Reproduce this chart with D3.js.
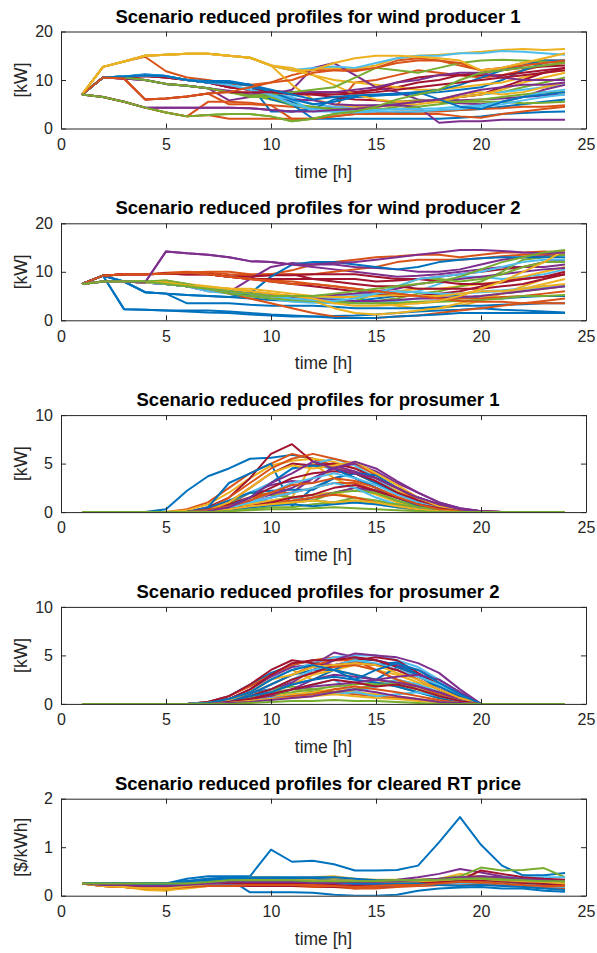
<!DOCTYPE html>
<html>
<head>
<meta charset="utf-8">
<script src="https://cdn.jsdelivr.net/npm/d3@7"></script>
<style>
  body { margin: 0; background: #fff; }
  text { font-family: "Liberation Sans", Arial, sans-serif; }
</style>
</head>
<body>
<div id="chart"></div>
<script>
// hours 1..24
var hours = d3.range(1, 25);

var wind1 = [
  [7,10.5,10.7,11,10.8,10,9.5,9.3,8.8,7,5.5,4,3.5,3.2,3,3.2,3.5,3.6,3.8,4,4.5,5,5.5,6],
  [7,10.5,10.3,6,6.2,6.6,7.2,5,5,4.8,4.5,4.2,4,9.5,10,11,12,11.5,11,10.5,11,12,13,13.5],
  [7,12.7,13.8,15,15.2,15.4,15.4,15,14.6,13,12,12.3,12.5,12.3,13,14.5,15,15.2,15.5,15.8,16.2,16.4,16.2,16.4],
  [7,6.5,5.5,4.3,4.3,4.3,4.3,4.3,4.2,3.8,3.5,4,4.5,4.5,4.5,5,5.5,6,5.8,6,6.2,6.5,6.8,7],
  [7,10.5,10.5,10,9.2,8.8,8.3,7.5,6.8,6,4.8,4,3.8,3.5,3.8,4.5,5.5,6,6.5,7,7.5,8.5,9.5,10.5],
  [7,10.5,10.7,11,10.8,10,9.5,9,8,7.2,6.5,5,4.5,4.5,4.8,5,5.5,6,6.5,7,7.5,8,8.5,9],
  [7,10.5,10.5,10.8,10.5,10,9.5,8.5,8,7.5,7.5,7.5,7.5,7.5,8,8.5,9.5,10,11,11.5,12,12.5,12.8,13],
  [7,10.5,10.7,11.2,10.8,10,9.5,9.5,9,3.5,3.5,4,6,6.5,6.8,7,7.2,7.5,8,8.5,10,12,13.5,14],
  [7,12.7,13.8,14.8,11.8,10.5,10,9.3,9,9.5,11,12,12,11.8,12.5,14,14.5,14,13,12,12.5,13.5,14,14],
  [7,12.7,13.8,15,15.2,15.4,15.4,15,14.6,13,12,11,10,9.5,9,8.5,8,8,8.5,9,9.5,10.5,11.5,12],
  [7,10.5,10.3,10,9.2,8.8,8.3,5.8,6.5,7,8,12.5,13.5,11,8.5,7.5,6,5.5,5.2,5,5.5,6.5,8,9],
  [7,6.5,5.5,4.3,3.3,2.5,2.8,3,3,2.5,1.5,2,3,3.5,4.5,5.5,5.8,5.5,5.5,5.5,5.5,5.2,5.3,5.5],
  [7,12.7,13.8,15,15.2,15.4,15.4,15,14.6,13,12,12.5,12.8,12.5,13.5,14.5,15,15,15.5,15.5,16,15.8,15.5,15.2],
  [7,10.5,10.5,10.8,10.5,10,9.5,8.5,8,7.8,7.5,7,6.5,6,5.8,5.5,5.5,6,6.5,7,8.5,10,11.5,12.5],
  [7,10.5,10.7,11,10.8,10,9.8,9.8,9,6,5,2,2,2,2,2,2,2,2.2,2.5,3,3.2,3.4,3.5],
  [7,6.5,5.5,4.3,3.3,2.5,5.5,5.5,5.3,4.8,2,2,2.5,3,3,3,3,3,2.5,2.2,3,3.5,4,4.5],
  [7,12.7,13.8,15,15.2,15.4,15.4,15,14.6,13,9,6,5,4.5,4.5,4.8,5,5.5,6.5,7,8,9.5,10.5,11.5],
  [7,10.5,10.3,10,9.2,8.8,8.3,7.8,7,6.5,6,5.8,5,4.8,4.8,4.8,4.5,1.2,1.5,1.5,1.8,1.8,1.8,1.8],
  [7,10.5,10.5,10,9.2,8.8,8.3,7.5,6.5,6.5,5,4.5,4,4,4,4,4.5,5,5.5,6,6.5,7,7.5,7.5],
  [7,10.5,10.7,11,10.8,10,9.5,9,8,6.8,6,3.5,3.5,3.5,3.8,4,4,4.2,4.5,4.8,5.5,6.5,7.5,8],
  [7,10.5,10.5,10.8,10.5,10,9.5,8.5,8,7.5,7.2,7.2,7.5,7.5,8,9.5,10.5,11,11,11,11,11.5,12,12.5],
  [7,10.5,10.7,11,10.8,10,9.5,9.5,9,7.5,6,5,5.5,6.5,6.8,7,7.5,8,9,10.5,12,13,14,14],
  [7,6.5,5.5,4.3,3.3,2.5,2.8,2,2,2,2,2,2.5,3,3.2,3.5,3.5,3.5,3.8,4,4.2,4.5,4.5,4.8],
  [7,12.7,13.8,15,15.2,15.4,15.4,15,14.6,13,12.5,11,9,7,6,5.5,5.5,6,7,7.5,7,7.5,8.5,9.5],
  [7,10.5,10.3,10,9.2,8.8,8.3,7.5,7,7.5,7.5,7.5,7.5,8,8.5,9.5,10,11,11.5,11.5,10.5,10,10,10],
  [7,10.5,10.5,10,9.2,8.8,8.3,7.5,6.8,7,7.5,8,8.5,10.5,12.5,12,11.5,12.5,13.5,14,14.2,14,13.8,13.5],
  [7,10.5,10.7,11,10.8,10,9.5,9,8,7,5,4,3.5,3.3,3.5,3.5,3.5,3.8,4,4.5,5,5.8,6.5,7],
  [7,10.5,10.3,6,6.2,6.6,7.2,7.5,7.5,7.5,7,7,7,7.2,7.5,8,8.5,9,9.5,10,10.5,11,11.5,12],
  [7,10.5,10.7,11,10.8,10,9.5,9.5,9,8,7,6,6.5,6.8,7,7.2,7.5,6,4.5,4,5.5,6.5,7,7.5],
  [7,10.5,10.3,6,6.2,6.6,7.2,7.5,8.5,9.5,10,11.5,12,12,12.5,13.5,14,14,13.5,12,12.5,13,13.5,14],
  [7,12.7,13.8,15,15.2,15.4,15.4,15,14.6,13,12,12,13.5,14.5,15,15,14.8,14.5,14,12,12.5,13.5,14.5,15.5],
  [7,6.5,5.5,4.3,4.3,4.3,4.3,4.3,4.2,3.8,3.5,3.5,3.8,4,4.5,5,5.5,6,7,8,8.5,9,9,9.5],
  [7,6.5,5.5,4.3,3.3,2.5,2.8,3,3,2.5,1.5,2,3,3.5,4.5,6,7,8,10,11.5,12,12.5,13,13.5]
];

var wind2 = [
  [7.5,9.2,2.3,2.2,2,1.8,1.6,1.5,1.2,1,0.8,0.8,0.9,1,1.2,1.5,1.8,2,2.2,2.5,2.2,2,1.8,1.6],
  [7.5,9.2,9.5,9.5,9.6,9.8,10,10,9.5,9.5,10.3,11.5,12,12.5,13,13.2,13.5,13.5,13,13.5,14,14,14.2,14],
  [7.5,8,8,7.8,7.8,7.5,7,6.5,6,5.5,5,4.5,4,3.8,3.5,3,2.5,2.5,3,4,5.5,7,8.5,9.5],
  [7.5,8,8,7.8,14.2,13.8,13.5,13,12.2,12,11.5,11,10.5,10,9.5,9,9.2,9.5,10,10.5,11,11,11,11.5],
  [7.5,8,8,8,8.2,7.5,6.5,5.8,5.2,4.5,4,3.8,3.6,3.5,3.5,3.6,3.8,4,4.5,5,5.5,6,6.5,7],
  [7.5,8,8,7.8,7.5,7,6.5,6,5.5,5,4.5,4.2,4.8,5.5,5.5,5.5,6,7.5,9,9,8.5,9,9.5,10.5],
  [7.5,9.2,9.5,9.5,9.6,9.5,9.5,9,9.3,9.3,9.5,8.5,8.5,8.5,8,8.2,8.5,9,9.5,10,10.5,11,12,12.5],
  [7.5,9.2,8,5.8,5.5,5.2,5,4.8,4.5,4.2,4,4,3.8,4,4.5,5,5,5.2,5,4.5,4.5,4.8,5,5],
  [7.5,9.2,9.5,9.5,9.8,10,9.8,9.5,9.3,9.5,9.5,9.5,10,10.5,11,12,12.5,12.5,12.5,12.8,13.2,13.5,13.5,13.5],
  [7.5,8,8,7.8,7.8,7.2,6.8,6.5,6,5.5,5,4.5,4.5,5,5.5,6,6.5,6.5,7,7.5,8,9,10,11],
  [7.5,8,8,7.8,7.5,7,6,5.8,8.5,11,11.8,11.5,11.5,11,10.8,10.5,10,10,10.5,11.5,12.5,13,13.2,13.5],
  [7.5,8,8,8,7.5,7,6.5,5.5,5,4.5,4.2,4,3.8,3.8,4,4.5,5.5,6,7,8,10,12.5,13,13.5],
  [7.5,8,8,7.8,7.5,7,6,5.5,5,4.5,3.8,3.6,3.5,3.6,3.8,4,4.5,5,5.5,6,6.2,6.5,6.8,7],
  [7.5,9.2,9.5,9.5,9.6,9.5,9.5,9,8.5,8,7.5,7,6.5,6,5.5,5,5,5.5,6,7,8,8.5,9,10],
  [7.5,9.2,8,5.8,5.5,3.5,3.5,3.5,3.2,3,3,3,2.8,2.5,2.5,2.5,2.5,2.8,3,3,3.2,3.3,3.5,3.5],
  [7.5,8,8,7.8,7.5,7,6.5,5.5,4.5,3.5,2.5,1.5,0.8,0.5,0.5,0.8,1,1.5,2,2.5,3,3.5,4,4.5],
  [7.5,8,8,7.8,7.8,7.2,6.8,6.2,5.5,5,4.5,4,2.5,1.5,1.2,1.5,2,2.5,3.5,4.5,5.5,6.5,7.5,8.5],
  [7.5,8,8,7.8,7.5,7,6.5,6,5.5,5.2,5,5,5.2,5.5,6,6.5,7.5,8,8.5,9,9.5,10,10.5,10.8],
  [7.5,8,8,8,8.2,7.5,6.5,6,5.5,5,5,4.5,4.5,4,5.5,7,8.5,8.5,8,8.5,9.5,11,12,12],
  [7.5,8,8,7.8,7.5,7,6.5,6,5.5,5,4.5,4.5,4.5,5,5.5,6,5.8,5.5,5.5,5.8,6,6.5,7,7],
  [7.5,9.2,9.5,9.5,9.6,9.5,9.5,9,9,9.3,9.3,9.5,9.5,9.5,9,8.5,8.5,8,7.5,7.5,7.8,8.5,9,9.5],
  [7.5,9.2,8,5.8,5.5,5.2,5,4.8,5.5,9,11.5,12,12,11.5,11,10.5,11,12,12.5,12.8,13,13,13,13],
  [7.5,9.2,9.5,9.5,9.6,9.8,9.5,9,8.5,8,7.5,7.5,7,6.5,6,5.5,5,4.8,4.5,4.5,4.8,5,5.5,6],
  [7.5,8,8,7.8,7.8,7.2,6.8,6.5,6.5,6,5.5,5,4.8,4.8,5,5.2,5,5,5.5,6,6,6.5,7,7.5],
  [7.5,8,8,7.8,7.5,7,6.5,6,5.5,5,4.8,4.5,4.2,4,4,4.2,4.5,4.5,4.8,5,5.5,6,6.5,7],
  [7.5,8,8,8,7.5,7,6.5,5.5,5,4.5,4.2,4,3.8,3.5,3.5,3.5,3.5,3.8,4,4.2,4.5,5,5,5.2],
  [7.5,8,8,7.8,7.5,7,6.5,6,5.5,5,4.5,4.2,4,4.5,5.5,7,8.5,9,9.5,10,11,12,12.5,12.5],
  [7.5,9.2,9.5,9.5,9.6,9.5,9.5,9,8.5,8.5,8.5,8.5,8,7.5,7,7,6.5,6.5,6.5,6.5,7,7.5,8.5,9.5],
  [7.5,9.2,2.3,2.2,2,2,2,1.8,1.5,1.2,1,0.8,0.5,0.5,0.5,0.8,1,1.2,1.5,1.5,1.5,1.5,1.5,1.5],
  [7.5,9.2,9.5,9.5,9.6,9.8,9.5,9,8.5,8.2,8,7.5,7,6.5,6,5.5,5,4.5,4,3.8,3.8,3.5,3.5,3.5],
  [7.5,8,8,7.8,7.8,7.2,6.8,6.5,6,5.5,5,4.5,3.5,3,3,3.2,3.5,4,5,6.5,8,10,12,14.5],
  [7.5,8,8,7.8,14.2,13.8,13.5,13,12.2,12,11.5,11.5,11.8,12,12.5,13,13.5,14,14.5,14.5,14.3,14,13.8,14],
  [7.5,8,8,8,7.5,7,6.5,6,5.5,5,5,5,5.5,6,6.5,7,7.5,8,9,10.5,12,13,14,14.5]
];

var pros1 = [
  [0,0,0,0,0.3,2.2,3.7,4.5,5.5,5.6,5.9,5.5,4.5,3.5,2.5,1.5,0.8,0.3,0.1,0,0,0,0,0],
  [0,0,0,0,0,0.3,1,2.5,4,5,6,5.5,4.8,4,3,2,1,0.5,0.2,0,0,0,0,0],
  [0,0,0,0,0,0.2,0.8,2,3.5,4.8,5.3,5.5,5.2,4.5,3.5,2.2,1.2,0.5,0.2,0,0,0,0,0],
  [0,0,0,0,0,0,0.2,0.8,2,2.8,3.2,3,4.8,4.2,3.5,2.5,1.5,0.8,0.3,0.1,0,0,0,0],
  [0,0,0,0,0,0,0.3,0.8,1.5,1.8,1.5,1.2,1,1.5,1.2,0.8,0.5,0.2,0,0,0,0,0,0],
  [0,0,0,0,0,0,0.2,1,2,3,4.5,5,5.5,4.8,3.5,2,1,0.4,0.1,0,0,0,0,0],
  [0,0,0,0,0,0,0.5,1.5,3.5,6,7,5.2,4.5,3.5,2.5,1.5,0.8,0.3,0.1,0,0,0,0,0],
  [0,0,0,0,0,0,0.5,3,4,5,0.6,2.5,3.5,4,3,2,1,0.4,0.1,0,0,0,0,0],
  [0,0,0,0,0,0,0.3,1.5,3,4.5,5.5,6,5.5,5,3.8,2.5,1.2,0.5,0.1,0,0,0,0,0],
  [0,0,0,0,0,0,0.2,0.8,1.5,2,1.5,5,3.5,2.5,1.8,1,0.5,0.2,0,0,0,0,0,0],
  [0,0,0,0,0,0,0,0.3,1,1.5,2,3.5,4.5,5,4.2,3,2,1,0.4,0.1,0,0,0,0],
  [0,0,0,0,0,0,0.3,1,2,1.8,1.5,1.8,2,2.5,2,1.2,0.6,0.2,0,0,0,0,0,0],
  [0,0,0,0,0,0,0.2,0.5,1,1.2,1.5,1.2,1,1,0.8,0.5,0.2,0,0,0,0,0,0,0],
  [0,0,0,0,0,0,0.3,1,2.5,4,5,4.8,5,4.5,3.5,2.5,1.5,0.8,0.3,0.1,0,0,0,0],
  [0,0,0,0,0,0,0.4,1.2,2,2.2,2.3,2.3,3.5,4,3.8,2.5,1.5,0.7,0.2,0,0,0,0,0],
  [0,0,0,0,0,0,0.2,0.8,1.5,2,2,2.5,3,3,2.2,1.5,0.8,0.3,0.1,0,0,0,0,0],
  [0,0,0,0,0,0,0.1,0.3,0.8,1.2,1.5,1.8,2,1.5,1,0.5,0.2,0,0,0,0,0,0,0],
  [0,0,0,0,0,0,0,0.2,0.5,0.8,1,1.5,2,2.5,2.2,1.5,0.8,0.3,0.1,0,0,0,0,0],
  [0,0,0,0,0,0,0,0.2,0.5,0.8,1,1.2,2,2.2,2,1.2,0.6,0.3,0.1,0,0,0,0,0],
  [0,0,0,0,0,0,0.2,0.5,1,1.5,2,2.5,3,2.5,1.5,0.8,0.3,0.1,0,0,0,0,0,0],
  [0,0,0,0,0,0,0.3,0.8,1.5,2.5,3.5,4,4.2,4,3.2,2,1.2,0.6,0.2,0,0,0,0,0],
  [0,0,0,0,0,0,0.2,0.6,1.5,3,4.5,4.8,4.5,3.5,2.5,1.5,0.7,0.3,0,0,0,0,0,0],
  [0,0,0,0,0,0,0.1,0.3,0.6,1,1.2,1.5,1.8,1.5,1,0.6,0.3,0.1,0,0,0,0,0,0],
  [0,0,0,0,0,0,0.2,1,2.5,4,4.8,4.5,4.8,5.2,4,2.8,1.5,0.6,0.2,0,0,0,0,0],
  [0,0,0,0,0,0,0.2,0.6,1.2,1.8,2.5,3.5,4.5,5.2,4.5,3.2,2,1,0.4,0.1,0,0,0,0],
  [0,0,0,0,0,0,0,0.1,0.3,0.5,0.5,0.8,1,1.2,1,0.8,0.5,0.3,0.1,0,0,0,0,0],
  [0,0,0,0,0,0,0.1,0.4,1,2,3,3.5,4,3.5,2.8,1.8,1,0.4,0.1,0,0,0,0,0],
  [0,0,0,0,0,0,0.1,0.3,0.6,1,1.5,1.8,2.5,2.8,2.2,1.5,0.8,0.4,0.1,0,0,0,0,0],
  [0,0,0,0,0,0,0.1,0.3,0.5,0.7,0.8,0.6,0.8,1,0.8,0.5,0.3,0.1,0,0,0,0,0,0],
  [0,0,0,0,0,0,0.2,0.6,1.2,2,2.8,3,3.5,3.2,2.5,1.6,0.8,0.3,0.1,0,0,0,0,0],
  [0,0,0,0,0,0,0.1,0.3,0.6,0.8,1,1.2,1,1.2,1,0.6,0.3,0.1,0,0,0,0,0,0],
  [0,0,0,0,0,0,0.1,0.5,1.5,3,4,5.2,4.5,4,3.5,2.5,1.5,0.8,0.3,0.1,0,0,0,0],
  [0,0,0,0,0,0,0,0.1,0.2,0.3,0.3,0.4,0.5,0.4,0.3,0.2,0.1,0,0,0,0,0,0,0]
];

var pros2 = [
  [0,0,0,0,0,0,0.2,0.8,2,3.2,4,4.5,4.5,4.6,4.5,4,3,1.8,0.8,0,0,0,0,0],
  [0,0,0,0,0,0,0.2,0.8,1.8,3,4,4.5,4.8,4.5,4,3.5,2.8,1.8,0.8,0,0,0,0,0],
  [0,0,0,0,0,0,0.1,0.5,1.5,2.5,3.5,2.5,3.5,4,3.5,3,2.2,1.5,0.6,0,0,0,0,0],
  [0,0,0,0,0,0,0.1,0.5,1.5,2.8,3.8,4,5.3,4.8,4.5,4,3.5,2.5,1.2,0,0,0,0,0],
  [0,0,0,0,0,0,0.1,0.3,0.8,1.2,1.5,1.3,1.2,1.5,2,2.5,2,1.2,0.5,0,0,0,0,0],
  [0,0,0,0,0,0,0.1,0.4,1.2,2.5,3.5,4.2,4.8,5,5,4.5,3.8,2.5,1.2,0,0,0,0,0],
  [0,0,0,0,0,0,0.2,0.8,2,3.5,4.5,4.2,4,4.5,4.8,4.5,3.2,2,0.8,0,0,0,0,0],
  [0,0,0,0,0,0,0.1,0.5,1.2,1.5,2,2.5,3.5,4.5,4,4.3,3,1.5,0.5,0,0,0,0,0],
  [0,0,0,0,0,0,0.1,0.4,1,2,3,4,4.5,4.5,3.5,2.5,1.5,0.8,0.3,0,0,0,0,0],
  [0,0,0,0,0,0,0,0.2,0.6,1.2,2,3,3.5,3,2.5,2,1.5,0.8,0.3,0,0,0,0,0],
  [0,0,0,0,0,0,0.1,0.3,0.8,1.5,2.2,3.5,4.5,5.2,5,4.8,4.2,3.2,1.5,0,0,0,0,0],
  [0,0,0,0,0,0,0,0.3,0.8,1.5,1.8,1.5,1.2,1.5,2,2.2,1.8,1,0.4,0,0,0,0,0],
  [0,0,0,0,0,0,0,0.2,0.5,1,1.5,2,2.5,1.2,1.8,2.5,2,1.2,0.5,0,0,0,0,0],
  [0,0,0,0,0,0,0.1,0.5,1.5,3,4.2,4.5,4.5,4.8,4.5,3.8,3,2,0.8,0,0,0,0,0],
  [0,0,0,0,0,0,0.1,0.4,1,2,3,3.5,3.5,3,2.5,3.8,3,1.8,0.8,0,0,0,0,0],
  [0,0,0,0,0,0,0.1,0.3,0.8,1.5,2.5,3.2,3.8,4,3.5,2.5,1.8,1,0.4,0,0,0,0,0],
  [0,0,0,0,0,0,0,0.2,0.5,0.8,1,1.2,1.5,1.2,1,0.8,0.5,0.3,0.1,0,0,0,0,0],
  [0,0,0,0,0,0,0,0.1,0.4,0.8,1.5,2.5,3,2.8,2.5,2.2,1.8,1.2,0.5,0,0,0,0,0],
  [0,0,0,0,0,0,0,0.2,0.6,1,1.2,1.5,1.8,2,2.2,1.8,1.2,0.6,0.2,0,0,0,0,0],
  [0,0,0,0,0,0,0.1,0.3,0.8,1.5,2.5,3.5,4,4.5,4.2,3.5,2.8,2,1,0,0,0,0,0],
  [0,0,0,0,0,0,0,0.3,0.8,1.5,2.5,3.2,4,4.2,4,3.5,2.5,1.5,0.6,0,0,0,0,0],
  [0,0,0,0,0,0,0.1,0.3,0.8,1.2,2,2.5,2.8,2.5,2.2,1.8,1.2,0.6,0.2,0,0,0,0,0],
  [0,0,0,0,0,0,0,0.1,0.3,0.6,0.8,1,1.2,1,0.8,0.6,0.4,0.2,0.1,0,0,0,0,0],
  [0,0,0,0,0,0,0.1,0.4,1.2,2.5,3,3.8,4,4.2,4,3.2,2.5,1.5,0.6,0,0,0,0,0],
  [0,0,0,0,0,0,0,0.2,0.5,1,1.5,1.8,2,2.2,2.5,2.8,3,2.5,1.2,0,0,0,0,0],
  [0,0,0,0,0,0,0,0.1,0.3,0.5,0.8,1,1.2,1.5,2,2,1.5,0.8,0.3,0,0,0,0,0],
  [0,0,0,0,0,0,0,0.1,0.3,0.6,0.8,1,1,1.2,0.8,1,1.2,0.8,0.3,0,0,0,0,0],
  [0,0,0,0,0,0,0,0.2,0.5,1,1.5,2,2.5,2.2,1.8,2,1.5,0.8,0.3,0,0,0,0,0],
  [0,0,0,0,0,0,0.1,0.5,1.2,2.5,3.5,4,3.5,2.5,3.5,4.2,3.5,2.2,1,0,0,0,0,0],
  [0,0,0,0,0,0,0,0.1,0.3,0.5,0.8,1,1.5,1.8,1.5,1.2,0.8,0.4,0.1,0,0,0,0,0],
  [0,0,0,0,0,0,0,0.1,0.3,0.5,0.6,0.8,1,0.8,0.6,0.5,0.3,0.2,0.1,0,0,0,0,0],
  [0,0,0,0,0,0,0,0.1,0.2,0.4,0.6,0.8,1.2,1.5,1.2,0.8,0.5,0.2,0.1,0,0,0,0,0],
  [0,0,0,0,0,0,0,0,0.1,0.2,0.3,0.3,0.4,0.3,0.3,0.2,0.1,0,0,0,0,0,0,0]
];

var price = [
  [0.25,0.25,0.25,0.25,0.25,0.35,0.4,0.4,0.4,0.95,0.7,0.72,0.65,0.52,0.52,0.53,0.62,1.1,1.62,1.05,0.62,0.42,0.42,0.47],
  [0.25,0.2,0.18,0.15,0.15,0.2,0.22,0.22,0.22,0.22,0.22,0.2,0.2,0.15,0.18,0.2,0.22,0.25,0.28,0.3,0.28,0.25,0.22,0.2],
  [0.25,0.2,0.18,0.12,0.1,0.18,0.22,0.3,0.38,0.38,0.37,0.38,0.4,0.35,0.33,0.33,0.33,0.35,0.45,0.4,0.35,0.3,0.28,0.25],
  [0.25,0.22,0.22,0.22,0.22,0.25,0.28,0.3,0.3,0.3,0.3,0.3,0.28,0.28,0.3,0.33,0.38,0.45,0.55,0.48,0.4,0.35,0.32,0.3],
  [0.25,0.25,0.25,0.25,0.25,0.25,0.28,0.35,0.35,0.35,0.35,0.35,0.35,0.33,0.32,0.32,0.33,0.35,0.4,0.58,0.52,0.53,0.57,0.38],
  [0.25,0.22,0.2,0.2,0.2,0.22,0.25,0.25,0.28,0.28,0.28,0.25,0.25,0.25,0.25,0.28,0.3,0.32,0.35,0.38,0.38,0.38,0.38,0.38],
  [0.25,0.22,0.2,0.18,0.18,0.2,0.22,0.22,0.22,0.22,0.22,0.2,0.2,0.2,0.2,0.22,0.25,0.28,0.32,0.52,0.45,0.38,0.35,0.33],
  [0.25,0.25,0.25,0.25,0.25,0.3,0.35,0.35,0.07,0.07,0.07,0.06,0.02,0,0,0.02,0.1,0.15,0.17,0.18,0.15,0.15,0.1,0.08],
  [0.25,0.2,0.2,0.18,0.18,0.22,0.2,0.25,0.25,0.25,0.25,0.25,0.22,0.2,0.2,0.22,0.25,0.25,0.28,0.25,0.22,0.2,0.18,0.15],
  [0.25,0.22,0.2,0.15,0.12,0.2,0.25,0.35,0.35,0.35,0.35,0.35,0.35,0.33,0.3,0.3,0.3,0.3,0.32,0.32,0.3,0.3,0.28,0.28],
  [0.25,0.22,0.2,0.2,0.2,0.22,0.25,0.3,0.3,0.32,0.32,0.3,0.28,0.25,0.25,0.28,0.3,0.32,0.35,0.4,0.35,0.32,0.3,0.28],
  [0.25,0.25,0.25,0.22,0.22,0.25,0.28,0.3,0.3,0.3,0.28,0.28,0.28,0.25,0.25,0.25,0.28,0.3,0.32,0.35,0.32,0.3,0.28,0.25],
  [0.25,0.22,0.2,0.2,0.2,0.22,0.25,0.28,0.3,0.3,0.3,0.28,0.28,0.28,0.28,0.28,0.3,0.3,0.3,0.32,0.3,0.28,0.25,0.22],
  [0.25,0.22,0.2,0.18,0.18,0.2,0.22,0.25,0.25,0.25,0.25,0.22,0.22,0.2,0.22,0.22,0.25,0.28,0.3,0.35,0.35,0.3,0.28,0.25],
  [0.25,0.25,0.25,0.25,0.25,0.3,0.35,0.38,0.38,0.38,0.38,0.38,0.38,0.35,0.32,0.3,0.3,0.3,0.3,0.3,0.28,0.25,0.22,0.2],
  [0.25,0.2,0.18,0.15,0.15,0.18,0.2,0.2,0.2,0.2,0.2,0.18,0.18,0.15,0.15,0.18,0.2,0.22,0.25,0.25,0.22,0.2,0.2,0.18],
  [0.25,0.2,0.18,0.15,0.12,0.15,0.2,0.25,0.28,0.28,0.28,0.28,0.28,0.25,0.22,0.22,0.25,0.28,0.3,0.3,0.3,0.28,0.25,0.22],
  [0.25,0.22,0.22,0.2,0.2,0.22,0.25,0.28,0.28,0.28,0.28,0.25,0.22,0.2,0.2,0.22,0.25,0.28,0.3,0.3,0.28,0.25,0.22,0.2],
  [0.25,0.25,0.25,0.25,0.22,0.25,0.28,0.32,0.32,0.32,0.32,0.32,0.32,0.3,0.3,0.3,0.32,0.32,0.35,0.38,0.35,0.32,0.3,0.28],
  [0.25,0.22,0.22,0.2,0.2,0.22,0.25,0.25,0.25,0.25,0.25,0.22,0.22,0.22,0.22,0.25,0.25,0.28,0.28,0.3,0.28,0.25,0.22,0.2],
  [0.25,0.22,0.2,0.2,0.2,0.22,0.22,0.22,0.2,0.2,0.2,0.2,0.18,0.18,0.18,0.2,0.22,0.25,0.28,0.3,0.28,0.25,0.22,0.18],
  [0.25,0.25,0.25,0.25,0.25,0.3,0.32,0.35,0.35,0.35,0.35,0.35,0.33,0.3,0.28,0.28,0.3,0.3,0.32,0.32,0.3,0.28,0.25,0.22],
  [0.25,0.2,0.18,0.18,0.18,0.2,0.22,0.22,0.22,0.22,0.22,0.2,0.2,0.18,0.18,0.2,0.2,0.22,0.22,0.25,0.22,0.2,0.18,0.15],
  [0.25,0.22,0.2,0.18,0.15,0.2,0.25,0.3,0.3,0.3,0.3,0.3,0.32,0.3,0.28,0.28,0.3,0.32,0.35,0.35,0.32,0.3,0.28,0.25],
  [0.25,0.22,0.2,0.2,0.2,0.22,0.25,0.25,0.25,0.25,0.25,0.25,0.25,0.22,0.22,0.25,0.28,0.3,0.32,0.35,0.32,0.3,0.28,0.25],
  [0.25,0.25,0.22,0.22,0.22,0.25,0.25,0.28,0.28,0.28,0.28,0.28,0.28,0.28,0.28,0.28,0.3,0.3,0.32,0.32,0.3,0.3,0.28,0.28],
  [0.25,0.22,0.2,0.2,0.2,0.2,0.22,0.22,0.22,0.22,0.22,0.22,0.22,0.2,0.2,0.22,0.22,0.25,0.25,0.28,0.25,0.22,0.2,0.18],
  [0.25,0.22,0.2,0.2,0.2,0.22,0.25,0.25,0.25,0.25,0.25,0.22,0.22,0.2,0.2,0.22,0.25,0.28,0.3,0.32,0.3,0.28,0.25,0.22],
  [0.25,0.25,0.25,0.22,0.22,0.25,0.28,0.3,0.3,0.3,0.28,0.28,0.28,0.25,0.25,0.25,0.25,0.22,0.2,0.22,0.2,0.18,0.15,0.12],
  [0.25,0.2,0.18,0.15,0.15,0.18,0.2,0.2,0.22,0.22,0.22,0.22,0.2,0.18,0.2,0.22,0.22,0.25,0.28,0.28,0.25,0.22,0.2,0.2],
  [0.25,0.2,0.18,0.15,0.15,0.2,0.25,0.3,0.32,0.32,0.32,0.32,0.3,0.28,0.28,0.3,0.3,0.32,0.35,0.35,0.32,0.3,0.28,0.25],
  [0.25,0.22,0.22,0.2,0.2,0.22,0.25,0.28,0.28,0.28,0.28,0.28,0.28,0.28,0.28,0.3,0.32,0.35,0.38,0.4,0.38,0.35,0.32,0.3],
  [0.25,0.25,0.25,0.25,0.25,0.25,0.28,0.32,0.32,0.32,0.32,0.3,0.3,0.3,0.3,0.32,0.32,0.33,0.35,0.35,0.33,0.32,0.3,0.3]
];

var titles = [
  "Scenario reduced profiles for wind producer 1",
  "Scenario reduced profiles for wind producer 2",
  "Scenario reduced profiles for prosumer 1",
  "Scenario reduced profiles for prosumer 2",
  "Scenario reduced profiles for cleared RT price"
];
var yLabels = ["[kW]", "[kW]", "[kW]", "[kW]", "[$/kWh]"];
var yMaxes = [20, 20, 10, 10, 2];
var yTicks = [[0, 10, 20], [0, 10, 20], [0, 5, 10], [0, 5, 10], [0, 1, 2]];
var xTicks = [0, 5, 10, 15, 20, 25];
var xLabel = "time [h]";
var panels = [wind1, wind2, pros1, pros2, price];

// MATLAB default colour order
var colours = ["#0072BD", "#D95319", "#EDB120", "#7E2F8E", "#77AC30", "#4DBEEE", "#A2142F"];

var width = 597, height = 953;
var left = 61, right = 586;
var tops = [31.5, 223.3, 415.1, 606.9, 798.7];
var plotH = 97;
var axisCol = "#262626";

var svg = d3.select("#chart").append("svg")
  .attr("width", width)
  .attr("height", height);

var x = d3.scaleLinear().domain([0, 25]).range([left, right]);

panels.forEach(function(series, p) {
  var top = tops[p], bottom = top + plotH;
  var y = d3.scaleLinear().domain([0, yMaxes[p]]).range([bottom, top]);
  var g = svg.append("g");

  g.append("clipPath").attr("id", "clip" + p)
    .append("rect")
      .attr("x", left).attr("y", top)
      .attr("width", right - left).attr("height", plotH);

  var line = d3.line()
    .x(function(d, i) { return x(hours[i]); })
    .y(function(d) { return y(d); });

  g.append("g")
    .attr("clip-path", "url(#clip" + p + ")")
    .selectAll("path")
    .data(series)
    .enter().append("path")
      .attr("d", line)
      .attr("fill", "none")
      .attr("stroke", function(d, i) { return colours[i % colours.length]; })
      .attr("stroke-width", 2)
      .attr("stroke-linejoin", "round");

  // box with inward ticks on all four sides
  var xb = g.append("g").attr("transform", "translate(0," + bottom + ")")
    .call(d3.axisBottom(x).tickValues(xTicks).tickSizeInner(-5).tickSizeOuter(0).tickPadding(10));
  var xt = g.append("g").attr("transform", "translate(0," + top + ")")
    .call(d3.axisTop(x).tickValues(xTicks).tickSizeInner(-5).tickSizeOuter(0).tickFormat(""));
  var yl = g.append("g").attr("transform", "translate(" + left + ",0)")
    .call(d3.axisLeft(y).tickValues(yTicks[p]).tickFormat(d3.format("d"))
      .tickSizeInner(-5).tickSizeOuter(0).tickPadding(8));
  var yr = g.append("g").attr("transform", "translate(" + right + ",0)")
    .call(d3.axisRight(y).tickValues(yTicks[p]).tickSizeInner(-5).tickSizeOuter(0).tickFormat(""));

  [xb, xt, yl, yr].forEach(function(a) {
    a.select(".domain").attr("stroke", axisCol).attr("stroke-width", 1);
    a.selectAll(".tick line").attr("stroke", axisCol);
    a.selectAll("text")
      .attr("fill", axisCol)
      .style("font-family", "'Liberation Sans', Arial, sans-serif")
      .style("font-size", "16px");
  });

  g.append("text")
    .attr("x", 318)
    .attr("y", top - 9)
    .attr("text-anchor", "middle")
    .style("font-size", "18.5px")
    .style("font-weight", "bold")
    .attr("fill", "#000")
    .text(titles[p]);

  g.append("text")
    .attr("x", (left + right) / 2)
    .attr("y", bottom + 49)
    .attr("text-anchor", "middle")
    .style("font-size", "17.5px")
    .attr("fill", axisCol)
    .text(xLabel);

  g.append("text")
    .attr("transform", "translate(27," + (top + plotH / 2) + ")rotate(-90)")
    .attr("text-anchor", "middle")
    .style("font-size", "17.5px")
    .attr("fill", axisCol)
    .text(yLabels[p]);
});
</script>
</body>
</html>
